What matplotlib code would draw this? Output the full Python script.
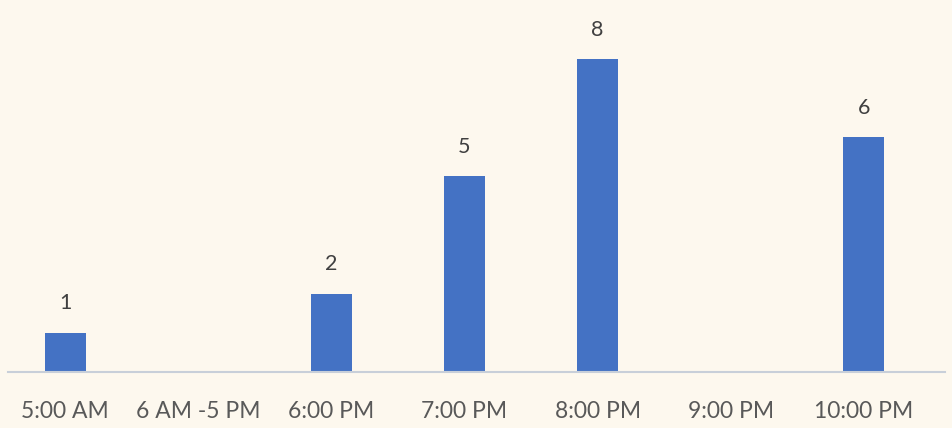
import matplotlib
matplotlib.use("Agg")
import matplotlib.pyplot as plt

categories = ["5:00 AM", "6 AM -5 PM", "6:00 PM", "7:00 PM", "8:00 PM", "9:00 PM", "10:00 PM"]
values = [1, 0, 2, 5, 8, 0, 6]

bg = "#FDF8EE"
fig = plt.figure(figsize=(9.53, 4.28), dpi=100, facecolor=bg)
ax = fig.add_axes([8/953, 56/428, 937/953, 372/428])
ax.set_facecolor(bg)

x = list(range(len(categories)))
bars = ax.bar(x, values, width=0.31, color="#4472C4")
for xi, v in zip(x, values):
    if v > 0:
        ax.annotate(str(v), (xi, v), xytext=(0, 14), textcoords="offset points",
                    ha="center", va="bottom", fontsize=15.5, color="#404040", family="Lato")

ax.set_xlim(-0.43, 6.61)
ax.set_ylim(0, 9.51)
ax.set_xticks(x)
ax.set_xticklabels(categories, fontsize=16.5, color="#595959", family="Lato")
ax.tick_params(axis="x", length=0, pad=21)
ax.set_yticks([])
for s in ["top", "right", "left"]:
    ax.spines[s].set_visible(False)
ax.spines["bottom"].set_color("#C8CFD9")
ax.spines["bottom"].set_linewidth(1.5)

fig.savefig("out.png", dpi=100, facecolor=bg)
